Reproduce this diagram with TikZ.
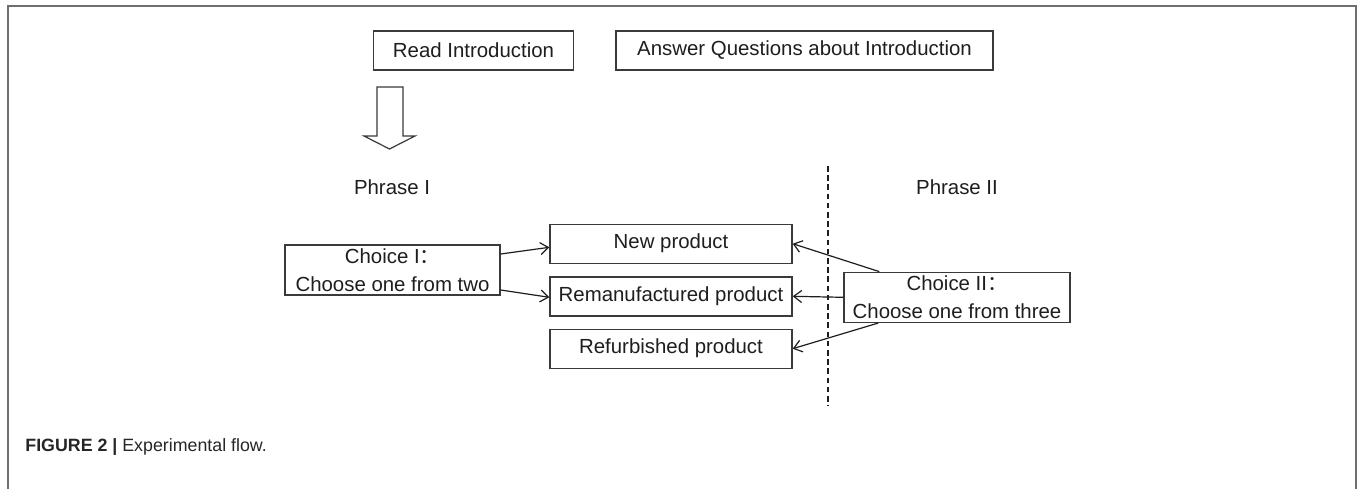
\documentclass[tikz,border=0pt]{standalone}
\usepackage{fontspec}
\setmainfont{Liberation Sans}
\newfontfamily\cjk{Noto Sans CJK SC}
\usetikzlibrary{arrows.meta,calc}
\definecolor{boxline}{HTML}{3A3A3A}
\definecolor{txt}{HTML}{1E1E1E}
\definecolor{framec}{HTML}{6E6E6E}
\tikzset{
  boxnode/.style={draw=boxline, line width=0.7pt, rectangle, inner sep=0pt,
    text=txt, font=\fontsize{10.2}{13.8}\selectfont, align=center},
  lbl/.style={inner sep=0pt, text=txt, font=\fontsize{10.2}{13.8}\selectfont},
  conn/.style={draw=txt, line width=0.6pt, -{Straight Barb[length=4pt,width=6pt]}},
}
\begin{document}
\begin{tikzpicture}[x=0.5pt,y=-0.5pt]
\useasboundingbox (0,0) rectangle (1360,488);
\fill[white] (0,0) rectangle (1360,488);
% outer frame
\draw[framec, line width=0.8pt] (8,510) -- (8,6) -- (1356,6) -- (1356,510);

% top boxes
\node[boxnode, minimum width=100pt, minimum height=19.5pt] (readI) at (473.5,50.5) {Read Introduction};
\node[boxnode, minimum width=188.5pt, minimum height=19.5pt] (answer) at (804.5,50.5) {Answer Questions about Introduction};

% block arrow
\draw[boxline, line width=0.6pt, fill=white] (377,87) -- (403,87) -- (403,136) -- (415,136) -- (389.5,149) -- (364,136) -- (377,136) -- cycle;

% phase labels
\node[lbl] (ph1) at (392,187) {Phrase I};
\node[lbl] (ph2) at (957,187) {Phrase II};

% dashed divider
\coordinate (dtop) at (828,166);
\coordinate (dbot) at (828,406);
\draw[txt, line width=0.6pt, dash pattern=on 2.8pt off 1.8pt] (dtop) -- (dbot);

% product boxes
\node[boxnode, minimum width=121pt, minimum height=19.5pt] (newp) at (671,243.7) {New product};
\node[boxnode, minimum width=121pt, minimum height=19.5pt] (reman) at (671,296.3) {Remanufactured product};
\node[boxnode, minimum width=121pt, minimum height=19.5pt] (refurb) at (671,348.7) {Refurbished product};

% choice boxes
\node[boxnode, minimum width=107.5pt, minimum height=25pt] (choice1) at (392.5,270) {Choice I{\cjk ：}\\Choose one from two};
\node[boxnode, minimum width=113pt, minimum height=25pt] (choice2) at (957,297.3) {Choice II{\cjk ：}\\Choose one from three};

% connectors
\draw[conn] ($(choice1.east)+(0,8pt)$) -- ($(newp.west)+(0,-1.8pt)$);
\draw[conn] ($(choice1.east)+(0,-10pt)$) -- ($(reman.west)+(0,-0.5pt)$);
\draw[conn] ($(choice2.north west)+(18pt,0)$) -- (newp.east);
\draw[conn] (choice2.west) -- (reman.east);
\draw[conn] ($(choice2.south west)+(17.5pt,0)$) -- (refurb.east);

% caption
\node[anchor=base west, inner sep=0pt, text=black!85, font=\fontsize{8.9}{10.5}\selectfont] (cap) at (25,451) {\textbf{FIGURE 2 |} Experimental flow.};
\end{tikzpicture}
\end{document}
